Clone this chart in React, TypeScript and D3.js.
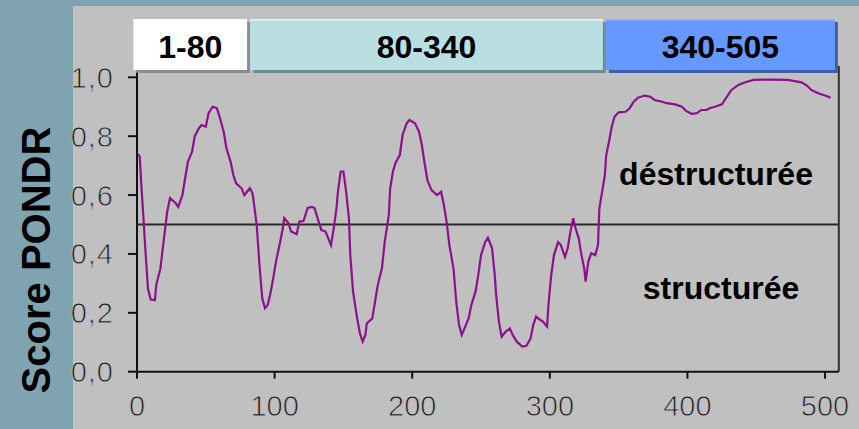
import React from "react";
import * as d3 from "d3";

// ---- data ----
const residues = [
  1, 2, 3, 5, 6, 8, 10, 13, 14, 17, 19, 22, 24, 28, 30, 33, 35, 37, 40, 42, 45, 47, 50, 52, 55, 58, 60, 63, 65, 68,
  70, 72, 76, 78, 82, 84, 87, 89, 91, 93, 95, 97, 99, 101, 104, 106, 107, 110, 112, 116, 118, 121, 124, 127, 129, 132,
  134, 137, 139, 141, 143, 145, 146, 148, 150, 152, 154, 155, 157, 160, 162, 164, 166, 167, 171, 173, 175, 178, 180,
  183, 184, 186, 188, 191, 193, 196, 198, 202, 205, 207, 209, 211, 214, 218, 221, 223, 225, 227, 230, 232, 234, 236,
  238, 241, 243, 246, 248, 250, 253, 255, 258, 260, 261, 263, 265, 268, 271, 273, 276, 280, 283, 286, 288, 290, 293,
  295, 298, 299, 301, 303, 306, 308, 311, 313, 315, 317, 318, 321, 323, 325, 326, 328, 330, 333, 335, 336, 338, 340,
  341, 343, 345, 347, 350, 355, 358, 361, 364, 369, 373, 376, 381, 385, 391, 396, 399, 403, 407, 410, 414, 416, 420,
  425, 428, 432, 437, 442, 448, 458, 473, 477, 483, 487, 490, 495, 500, 504,
];
const scores = [
  0.74, 0.73, 0.645, 0.5, 0.42, 0.28, 0.245, 0.243, 0.295, 0.35, 0.43, 0.545, 0.59, 0.573, 0.56, 0.6, 0.658, 0.713,
  0.747, 0.8, 0.827, 0.838, 0.832, 0.878, 0.9, 0.895, 0.866, 0.815, 0.759, 0.713, 0.668, 0.64, 0.623, 0.6, 0.623, 0.606,
  0.498, 0.362, 0.25, 0.216, 0.227, 0.267, 0.318, 0.374, 0.44, 0.488, 0.522, 0.505, 0.476, 0.467, 0.51, 0.512, 0.556,
  0.56, 0.556, 0.51, 0.481, 0.476, 0.453, 0.43, 0.488, 0.556, 0.611, 0.68, 0.68, 0.611, 0.521, 0.396, 0.272, 0.181,
  0.13, 0.102, 0.125, 0.164, 0.181, 0.238, 0.295, 0.351, 0.44, 0.532, 0.623, 0.68, 0.711, 0.736, 0.804, 0.844, 0.855,
  0.844, 0.815, 0.77, 0.708, 0.651, 0.617, 0.6, 0.611, 0.566, 0.51, 0.43, 0.351, 0.238, 0.159, 0.125, 0.147, 0.181,
  0.227, 0.272, 0.328, 0.396, 0.44, 0.455, 0.42, 0.328, 0.26, 0.17, 0.119, 0.136, 0.147, 0.125, 0.102, 0.085, 0.088,
  0.113, 0.159, 0.187, 0.176, 0.17, 0.153, 0.227, 0.328, 0.396, 0.44, 0.43, 0.39, 0.419, 0.476, 0.521, 0.498, 0.453,
  0.396, 0.351, 0.306, 0.374, 0.402, 0.396, 0.43, 0.555, 0.611, 0.668, 0.736, 0.781, 0.832, 0.866, 0.881, 0.883,
  0.895, 0.917, 0.931, 0.938, 0.934, 0.923, 0.918, 0.912, 0.908, 0.9, 0.886, 0.876, 0.878, 0.889, 0.889, 0.895, 0.9,
  0.908, 0.929, 0.957, 0.974, 0.983, 0.991, 0.992, 0.991, 0.988, 0.983, 0.971, 0.957, 0.946, 0.938, 0.931,
];
const threshold = 0.5;
const yTicks = [0, 0.2, 0.4, 0.6, 0.8, 1.0];
const yTickLabels = ["0,0", "0,2", "0,4", "0,6", "0,8", "1,0"];
const xTicks = [0, 100, 200, 300, 400, 500];
const bandLabels = ["1-80", "80-340", "340-505"];
const bandStarts = [1, 80, 340];
const bandEnds = [80, 340, 505];
const yTitle = "Score PONDR";
const upperLabel = "déstructurée";
const lowerLabel = "structurée";

// ---- layout / style ----
const W = 859;
const H = 429;
const FONT = "'Liberation Sans', Arial, Helvetica, sans-serif";
const bandFill = ["#ffffff", "#b9dfe3", "#6699ff"];
const bandShadow = ["#8c8c8c", "#6f8d8f", "#3f5ea8"];
const bandHighlight = ["#ffffff", "#e4f3f4", "#8fb0ff"];
const bandPad = [
  [-5, 0],
  [3, -2],
  [1, 3],
];

export default function App() {
  const x = d3.scaleLinear().domain([0, 510]).range([137, 838.8]);
  const y = d3.scaleLinear().domain([0, 1]).range([371.7, 77.3]);
  const pts = residues.map((r, i) => [r, scores[i]] as [number, number]);
  const line = d3
    .line<[number, number]>()
    .x((d) => x(d[0]))
    .y((d) => y(d[1]))
    .curve(d3.curveLinear);

  const frameTop = 66;
  const frameBottom = y(0);
  const frameLeft = x(0);
  const frameRight = x(510);

  const thin = { stroke: "#c0c0c0", strokeWidth: 0.9, paintOrder: "normal" as const };

  return (
    <svg
      width={W}
      height={H}
      style={{ position: "absolute", left: 0, top: 0, display: "block" }}
      fontFamily={FONT}
    >
      <rect x={0} y={0} width={W} height={H} fill="#7fa3b0" />
      <rect x={73} y={6} width={W - 73} height={H - 6} fill="#c0c0c0" />

      {/* y title */}
      <text
        transform={`translate(50, 260) rotate(-90)`}
        textAnchor="middle"
        fontSize={40}
        fontWeight="bold"
        fill="#000"
      >
        {yTitle}
      </text>

      {/* frame */}
      <line x1={frameRight} x2={frameRight} y1={frameTop} y2={frameBottom} stroke="#303030" strokeWidth={2} />
      <line x1={frameLeft} x2={frameLeft} y1={72} y2={frameBottom} stroke="#111" strokeWidth={2} />
      <line x1={frameLeft} x2={frameRight} y1={frameBottom} y2={frameBottom} stroke="#111" strokeWidth={2} />

      {/* threshold */}
      <line
        x1={frameLeft}
        x2={frameRight}
        y1={y(threshold)}
        y2={y(threshold)}
        stroke="#2a2a2a"
        strokeWidth={2.2}
      />

      {/* y ticks */}
      {yTicks.map((t, i) => (
        <g key={"y" + i}>
          <line x1={frameLeft - 9} x2={frameLeft} y1={y(t)} y2={y(t)} stroke="#111" strokeWidth={2} />
          <text
            x={114}
            y={y(t)}
            dy="0.36em"
            textAnchor="end"
            fontSize={29}
            fill="#1a1a1a"
            letterSpacing={1}
            {...thin}
          >
            {yTickLabels[i]}
          </text>
        </g>
      ))}

      {/* x ticks */}
      {xTicks.map((t, i) => (
        <g key={"x" + i}>
          <line x1={x(t)} x2={x(t)} y1={frameBottom} y2={frameBottom + 7} stroke="#111" strokeWidth={2} />
          <text x={x(t)} y={416} textAnchor="middle" fontSize={29} fill="#1a1a1a" {...thin}>
            {t}
          </text>
        </g>
      ))}

      {/* data line */}
      <path d={line(pts) || ""} fill="none" stroke="#8e0f8e" strokeWidth={2.2} strokeLinejoin="miter" />

      {/* region boxes */}
      {bandLabels.map((lab, i) => {
        const x0 = x(bandStarts[i]) + bandPad[i][0];
        const x1 = x(bandEnds[i]) + bandPad[i][1];
        const top = 19;
        const bottom = 70;
        return (
          <g key={"b" + i}>
            <rect x={x0 + 3} y={top + 3} width={x1 - x0} height={bottom - top} fill={bandShadow[i]} />
            <rect x={x0} y={top} width={x1 - x0} height={bottom - top} fill={bandFill[i]} />
            <rect x={x0} y={top} width={x1 - x0} height={1.5} fill={bandHighlight[i]} />
            <text
              x={(x0 + x1) / 2}
              y={58}
              textAnchor="middle"
              fontSize={32}
              fontWeight="bold"
              fill="#000"
            >
              {lab}
            </text>
          </g>
        );
      })}

      {/* region annotations */}
      <text x={716} y={185} textAnchor="middle" fontSize={32} fontWeight="bold" fill="#000">
        {upperLabel}
      </text>
      <text x={721} y={299} textAnchor="middle" fontSize={32} fontWeight="bold" fill="#000">
        {lowerLabel}
      </text>
    </svg>
  );
}
